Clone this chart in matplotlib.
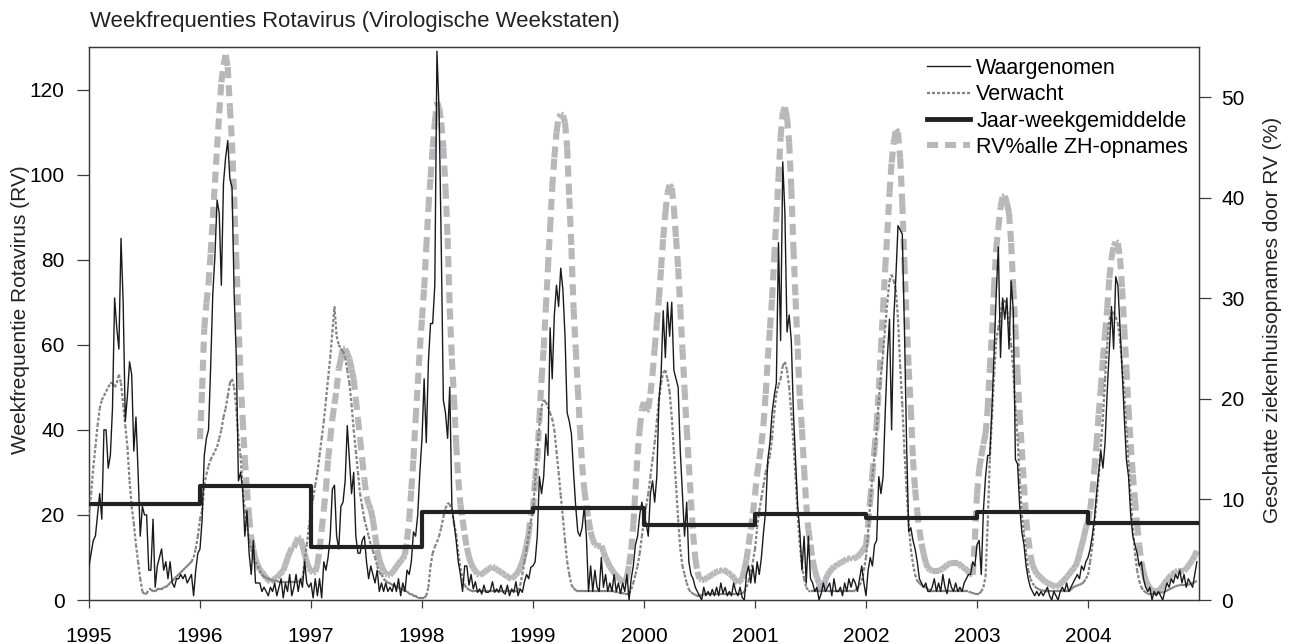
import numpy as np
import matplotlib
matplotlib.use('Agg')
import matplotlib.pyplot as plt
from matplotlib.collections import LineCollection
from matplotlib.lines import Line2D

# weekly observed counts (left axis)
obs_1995 = [8, 11, 14, 15, 20, 25, 19, 40, 40, 31, 34, 45, 71, 64, 59, 85, 70, 42, 48, 56, 53, 35, 43, 30, 15, 22,
            20, 20, 7, 7, 19, 3, 8, 10, 12, 7, 9, 5, 9, 4, 3, 5, 5, 6, 5, 6, 4, 5, 6, 1, 7, 11]
obs_1996 = [12, 19, 34, 38, 40, 55, 72, 81, 94, 91, 74, 98, 104, 108, 99, 97, 72, 57, 28, 30, 26, 15, 21, 11, 6, 14,
            4, 4, 4, 2, 3, 2, 1, 3, 2, 4, 1, 3, 5, 0.5, 4, 2, 6, 1, 3, 6, 2, 5, 3, 9, 4, 3]
obs_1997 = [4, 0.5, 5, 1, 5, 0.5, 9, 7, 10, 15, 26, 27, 15, 12, 22, 23, 28, 41, 33, 25, 30, 15, 11, 11, 14, 15,
            9, 5, 8, 6, 4, 7, 2, 4, 2, 4, 2, 3, 2, 4, 2, 5, 1, 4, 2, 7, 6, 9, 16, 15, 20, 30]
obs_1998 = [38, 52, 37, 56, 65, 65, 74, 129, 115, 84, 47, 44, 38, 50, 22, 18, 14, 9, 6, 2, 8, 8, 3.5, 6, 2.6, 4.3,
            1.8, 2.6, 1.4, 3.5, 1.8, 1.8, 2.2, 4.3, 1.8, 2.6, 1.8, 3.5, 1.8, 1.4, 3.5, 1, 2.6, 1.8, 4.3, 1, 2.6, 1.8,
            4.3, 6, 5, 7.7]
obs_1999 = [8, 9, 15, 29, 25, 29, 39, 34, 64, 52, 67, 74, 69, 78, 73, 62, 44, 42, 39, 30, 22, 16, 15, 17, 22, 15,
            2, 8, 2, 7, 3, 2, 10, 3, 6, 2, 4, 2, 6, 2, 4, 1.5, 4, 2, 6, 0, 5, 8, 13, 15, 20, 23]
obs_2000 = [20, 18, 15, 25, 28, 23, 29, 47, 53, 68, 57, 70, 62, 70, 54, 52, 50, 35, 25, 15, 23, 9, 6, 5, 3, 2,
            1, 0, 3, 1, 2, 1, 2.5, 1, 3, 1, 4, 1.5, 3, 1, 2, 1, 4, 2, 1, 3, 0.6, 0, 6, 8, 4, 8]
obs_2001 = [4, 9, 6, 10, 16, 21, 33, 37, 44, 48, 51, 84, 61, 103, 91, 63, 67, 61, 44, 33, 22, 16, 7, 15, 4, 15,
            5, 4, 2, 3, 0, 1.5, 4, 2, 3, 4, 1, 5, 2, 2, 3, 1, 4, 2, 5, 3, 5, 4, 2, 5, 8, 4]
obs_2002 = [1, 7, 10, 8, 13, 14, 29, 25, 29, 44, 57, 66, 40, 66, 76, 88, 87, 86, 64, 37, 16, 17, 14, 12, 9, 5,
            4, 3, 4, 2, 2, 3, 5, 2, 4, 2, 6, 3, 1.5, 5, 3, 2, 4, 2, 3, 2, 4, 5, 6, 6, 9, 8]
obs_2003 = [13, 14, 6, 21, 29, 34, 34, 45, 58, 72, 83, 57, 71, 66, 71, 59, 75, 68, 33, 32, 22, 16, 13, 8, 5, 3,
            2, 1, 2, 1, 2, 1, 2, 3, 1, 0, 2, 1, 0, 2, 3, 2, 4, 2, 3, 4, 5, 6, 5, 8, 7, 9]
obs_2004 = [10, 12, 15, 19, 25, 30, 35, 31, 37, 49, 59, 69, 59, 76, 74, 64, 54, 43, 33, 29, 20, 15, 13, 11, 8, 9,
            5, 3, 2, 3, 0, 2, 1, 2, 1, 0, 2, 4, 3, 5, 4, 6, 5, 7, 4, 6, 3, 5, 4, 3, 6, 9]

# weekly expected counts (left axis)
exp_1995 = [20, 25, 31, 36, 41, 45, 47, 48, 49, 50, 51, 51, 50, 51, 53, 51, 46, 41, 36, 28, 22, 18, 13, 9, 5, 2,
            1.4, 1.5, 2.5, 2.5, 2, 2, 2.5, 2.5, 2.5, 3, 3, 3.5, 4, 4.5, 5, 5.5, 6, 6.5, 7, 7.5, 8, 8.5, 9, 10, 12, 15]
exp_1996 = [19, 21, 27, 29.5, 31.5, 33, 34, 35, 36, 38, 40, 43, 45, 48, 51, 52, 50, 45, 38, 34, 26, 21, 18, 14,
            12, 10, 9, 8, 7, 6, 5.5, 5.2, 5, 4.8, 4.6, 4.5, 4.4, 4.3, 4.3, 4.3, 4.3, 4.3, 4.3, 4.3, 4.3, 4.3, 4.3,
            4.5, 5, 9, 13, 17]
exp_1997 = [21, 24, 27, 30, 34, 38, 42, 47, 52, 57, 63, 69, 62, 60, 59, 58.5, 57, 54, 51, 46, 40, 35, 30, 25, 22,
            19, 17, 15, 13, 11.5, 10, 8, 6.5, 6, 5, 4.5, 4, 4, 3.5, 3.5, 3, 3, 2.5, 2.5, 2, 2, 1.5, 1.5, 1, 1, 0.5, 0.5]
exp_1998 = [0.5, 0.5, 1, 3, 8, 11, 12.5, 13.6, 15, 17, 19.5, 21.5, 22.8, 22.5, 21, 18, 15.5, 11, 7.5, 5, 3.5, 2.8,
            2.4, 2.2, 2, 2, 2, 2, 2, 2, 2, 2, 2, 2, 2, 2, 2, 2, 2, 2, 2, 2, 2, 2, 2, 2.2, 3.5, 6, 9, 12, 15.5, 18.5]
exp_1999 = [21, 28, 35, 41, 45.5, 47, 46.5, 45.5, 44, 42.6, 40, 35, 30, 24.5, 19.4, 14, 9, 6, 3.5, 2.8, 2.3, 2, 2,
            2, 2, 2, 2, 2, 2, 2, 2, 2, 2, 2, 2, 2, 2, 2, 2, 1.8, 1.8, 1.6, 1.6, 1.5, 1.5, 1.5, 2.5, 4, 6, 8, 11, 15]
exp_2000 = [19, 22, 25, 29, 33, 37, 42, 47, 51, 53.5, 54, 52, 49, 43, 35, 27, 19, 12, 8, 6, 4, 2.5, 1.8, 1.5, 1.2,
            1, 1, 1.2, 1.3, 1.4, 1.5, 1.5, 1.5, 1.5, 1.5, 1.5, 1.5, 1.5, 1.5, 1.5, 1.5, 1.5, 1.5, 1.5, 1.5, 1.5, 1.5,
            2, 3, 4.5, 6.5, 9]
exp_2001 = [12, 17, 21, 24, 27, 30, 32, 34, 38, 44, 48.5, 50.5, 52, 55, 56, 54, 50, 44, 37, 29, 20, 13, 8, 5, 3,
            2.2, 2, 2, 2, 2, 2, 2, 2, 2, 2, 2, 2, 2, 2, 2, 2, 2, 2, 2, 2, 2, 2, 2.3, 2.8, 3.5, 4.5, 7]
exp_2002 = [10, 16, 23, 29, 34, 40, 47, 53, 58, 64, 70, 75, 76.5, 75, 73, 66, 55, 46, 35, 26, 18, 12, 8.5, 6, 4.5,
            4, 3.5, 3, 3, 2.5, 2.3, 2, 2, 2, 2, 2, 2, 2, 2, 2, 2, 2, 2, 2, 2, 2, 2, 2, 2, 1.8, 1.6, 1.5]
exp_2003 = [1.5, 1.5, 2, 3, 5.5, 18, 33, 43, 53, 61, 64, 67, 70, 70.5, 69, 64, 60, 54, 45, 38, 28, 20, 15.5, 11, 7,
            5, 4, 3.2, 2.8, 2.5, 2.3, 2.2, 2.1, 2, 2, 2, 2, 2, 2, 2, 2, 2, 2, 2, 2.5, 3, 3.2, 3.4, 3.6, 3.8, 4.2, 5]
exp_2004 = [5.9, 9, 12.7, 18, 23, 29, 36, 43, 52, 60, 66, 67.5, 67.7, 66.5, 65, 61, 55, 48, 40, 32, 24, 17, 11, 7,
            4.5, 3, 2.2, 1.8, 1.5, 1.5, 1.5, 1.5, 1.5, 1.6, 1.7, 1.8, 2, 2.2, 2.5, 2.7, 3, 3.2, 3.4, 3.5, 3.5, 3.5,
            3.5, 3.6, 3.8, 4, 4.2, 4.5]

# weekly RV share of all hospital admissions, % (right axis)
rv_1996 = [16, 21, 27, 29.5, 31.5, 34.5, 38, 41.5, 45, 48.4, 51.5, 53.2, 54.2, 53, 49, 45.5, 40, 34, 28, 22, 18,
           14, 11, 8.3, 6.2, 5, 4, 3.5, 3, 2.8, 2.5, 2.2, 2, 1.8, 2, 2.1, 2.2, 2.5, 2.7, 2.9, 3.5, 4.2, 4.7, 5.2,
           5.2, 5.8, 6.2, 6.1, 5.4, 4.6, 3.8, 3.2]
rv_1997 = [2.9, 2.7, 2.8, 3.5, 5, 7, 9, 11, 14, 16, 18, 19.5, 21, 23, 24, 25, 25, 24.5, 24, 23, 22, 20, 18, 16,
           14, 12, 10.3, 9.5, 9, 8, 6.5, 5, 4, 3.4, 2.9, 2.6, 2.5, 2.5, 2.7, 3, 3.3, 3.6, 3.9, 4.1, 4.5, 6, 8, 11,
           14, 18, 21.5, 25]
rv_1998 = [28, 31, 35, 39, 42, 45, 47.5, 49.5, 49, 47.5, 45, 41, 36, 29, 24, 20, 15.5, 12, 9.5, 8, 6.5, 5.2, 4.3,
           3.6, 3.2, 2.9, 2.6, 2.5, 2.6, 2.7, 2.9, 3.1, 3.2, 3.3, 3.2, 3, 2.9, 2.8, 2.6, 2.5, 2.3, 2.2, 2.1, 2.3,
           2.5, 2.8, 3.2, 3.8, 4.5, 5.5, 6.6, 8.5]
rv_1999 = [9, 12, 14, 18, 22, 25, 29, 33, 37, 41, 44, 46.5, 48, 48.3, 48.2, 47.5, 45, 40, 35, 29, 25, 21, 17,
           13.5, 11, 9.4, 8, 6.8, 6, 5.5, 5.4, 5.4, 5.4, 4.8, 4.2, 3.8, 3.3, 3, 2.7, 2.4, 2.2, 2, 1.8, 1.7, 2.3,
           3.5, 5, 7.5, 11, 14.5, 17, 19]
rv_2000 = [19.7, 18.8, 19, 20.5, 22.5, 25, 27.5, 30, 33, 36, 38.5, 40.5, 41.3, 41, 39, 36, 33, 29, 25, 21, 17,
           13.5, 10, 6.6, 4.2, 2.8, 2.1, 2, 2, 2.1, 2.3, 2.4, 2.5, 2.7, 2.8, 2.9, 2.9, 3, 2.9, 2.8, 2.6, 2.5, 2.2,
           1.9, 1.7, 1.9, 2.1, 3, 4, 5.5, 7, 8.6]
rv_2001 = [10.5, 12.5, 14, 15.5, 17.5, 20.5, 24, 27, 30, 34, 38, 42, 46, 48.5, 49, 48, 45.5, 41, 35, 30, 25, 20,
           17, 13, 9.5, 7, 5.5, 4, 3, 2.2, 1.7, 1, 1.2, 2, 2.5, 2.8, 3.1, 3.3, 3.4, 3.6, 3.7, 3.8, 3.9, 4.1, 4.1,
           4.2, 4.1, 4.2, 4.3, 4.5, 4.8, 5.1]
rv_2002 = [5.4, 7.5, 10, 12.5, 15, 17.5, 21, 25, 29, 33, 36.5, 40.5, 43.5, 45.5, 46.8, 46.5, 44, 39.5, 33.5, 28,
           23, 19, 14, 11, 8.8, 7, 5.6, 4.6, 3.7, 3.2, 3, 2.9, 2.9, 2.9, 2.9, 3, 3.1, 3.3, 3.5, 3.6, 3.7, 3.7, 3.7,
           3.7, 3.5, 3.3, 3.2, 3, 2.8, 2.6, 2.5, 6]
rv_2003 = [10.5, 13, 14.3, 15.5, 16.5, 19, 23, 26.5, 31, 35, 37, 39, 40.1, 40.2, 39.5, 38.5, 35.5, 31, 27, 22.5,
           18.5, 15, 11.5, 8, 6.2, 4.5, 3.5, 3, 2.6, 2.4, 2.2, 2, 1.8, 1.7, 1.6, 1.5, 1.4, 1.3, 1.4, 1.6, 1.8, 2,
           2.3, 2.5, 2.8, 3.1, 3.3, 3.8, 4.6, 5.4, 6.2, 7.2]
rv_2004 = [7.8, 9, 10.7, 13, 15.5, 18.5, 21, 24, 26.5, 29, 32, 34, 35.2, 35.6, 35.5, 34, 31, 27, 23, 19, 15.5,
           12.5, 10, 7.5, 5.5, 3.8, 2.8, 2, 1.5, 1.2, 0.9, 0.9, 0.9, 0.9, 1.1, 1.4, 1.7, 2, 2.2, 2.5, 2.6, 2.8, 2.9,
           2.9, 2.9, 2.9, 3.1, 3.4, 3.7, 4, 4.4, 4.9]

years = [1995, 1996, 1997, 1998, 1999, 2000, 2001, 2002, 2003, 2004]
year_mean = [22.5, 26.7, 12.5, 20.8, 21.7, 17.6, 20.3, 19.3, 20.6, 18.1]

observed = [obs_1995, obs_1996, obs_1997, obs_1998, obs_1999, obs_2000, obs_2001, obs_2002, obs_2003, obs_2004]
expected = [exp_1995, exp_1996, exp_1997, exp_1998, exp_1999, exp_2000, exp_2001, exp_2002, exp_2003, exp_2004]
rv_share = [rv_1996, rv_1997, rv_1998, rv_1999, rv_2000, rv_2001, rv_2002, rv_2003, rv_2004]


def weekly(first_year, per_year):
    xs, ys = [], []
    for i, vals in enumerate(per_year):
        n = len(vals)
        xs.append(first_year + i + np.arange(n) / n)
        ys.append(np.asarray(vals, dtype=float))
    return np.concatenate(xs), np.concatenate(ys)


def segments(x, y):
    pts = np.column_stack([x, y])
    return np.stack([pts[:-1], pts[1:]], axis=1)


plt.rcParams['font.family'] = ['Liberation Sans', 'DejaVu Sans']
plt.rcParams['lines.scale_dashes'] = False

c_obs = '#1a1a1a'
c_exp = '#838383'
c_mean = '#222222'
c_rv = '#b8b8ba'
exp_dash = (0, (2.2, 1.4))
rv_dash = (0, (8.0, 5.0))

fig = plt.figure(figsize=(12.9, 6.44), dpi=100)
ax = fig.add_axes([89 / 1290, 44 / 644, 1110 / 1290, 553 / 644])
ax2 = ax.twinx()
ax.set_zorder(ax2.get_zorder() + 1)
ax.patch.set_visible(False)

ox, oy = weekly(1995, observed)
ex, ey = weekly(1995, expected)
rx, ry = weekly(1996, rv_share)

# excel-style dashes restart on every weekly segment
ax2.add_collection(LineCollection(segments(rx, ry), colors=c_rv, linewidths=4.4,
                                  linestyles=[rv_dash], capstyle='butt'))
ax.add_collection(LineCollection(segments(ex, ey), colors=c_exp, linewidths=1.6,
                                 linestyles=[exp_dash], capstyle='butt', zorder=3))
ax.plot(ox, oy, color=c_obs, lw=1.0, zorder=4)
ax.plot(years + [2005], year_mean + [year_mean[-1]], drawstyle='steps-post',
        color=c_mean, lw=3.0, zorder=5)

ax.set_xlim(1995, 2005)
ax.set_ylim(0, 130)
ax2.set_ylim(0, 55)
ax.set_xticks(years)
ax.set_xticklabels([str(y) for y in years])
ax.set_yticks(range(0, 121, 20))
ax2.set_yticks(range(0, 51, 10))

for a in (ax, ax2):
    for s in a.spines.values():
        s.set_color('#3a3a3a')
        s.set_linewidth(0.9)
ax.tick_params(axis='y', direction='out', length=8.5, width=0.9, pad=9, labelsize=15, color='#3a3a3a')
ax.tick_params(axis='x', direction='out', length=5.6, width=0.9, pad=14, labelsize=15, color='#3a3a3a')
ax2.tick_params(axis='y', direction='out', length=8.5, width=0.9, pad=7.5, labelsize=15, color='#3a3a3a')

fig.text(90 / 1290, 1 - 21 / 644, 'Weekfrequenties Rotavirus (Virologische Weekstaten)',
         ha='left', va='center', fontsize=15.9, color='#222222')
fig.text(21 / 1290, 1 - 310 / 644, 'Weekfrequentie Rotavirus (RV)', rotation=90,
         ha='center', va='center', fontsize=15, color='#222222')
fig.text(1273 / 1290, 1 - 320 / 644, 'Geschatte ziekenhuisopnames door RV (%)', rotation=90,
         ha='center', va='center', fontsize=15, color='#222222')

handles = [
    Line2D([], [], color=c_obs, lw=1.0),
    Line2D([], [], color=c_exp, lw=1.6, ls=exp_dash),
    Line2D([], [], color=c_mean, lw=3.5),
    Line2D([], [], color=c_rv, lw=4.4, ls=rv_dash),
]
labels = ['Waargenomen', 'Verwacht', 'Jaar-weekgemiddelde', 'RV%alle ZH-opnames']
ax.legend(handles, labels, loc='upper right', bbox_to_anchor=(1.0, 1.0), frameon=False,
          fontsize=15.5, handlelength=2.0, handletextpad=0.3, labelspacing=0.25,
          borderaxespad=0.3, borderpad=0.2)

fig.savefig('out.png', dpi=100)
